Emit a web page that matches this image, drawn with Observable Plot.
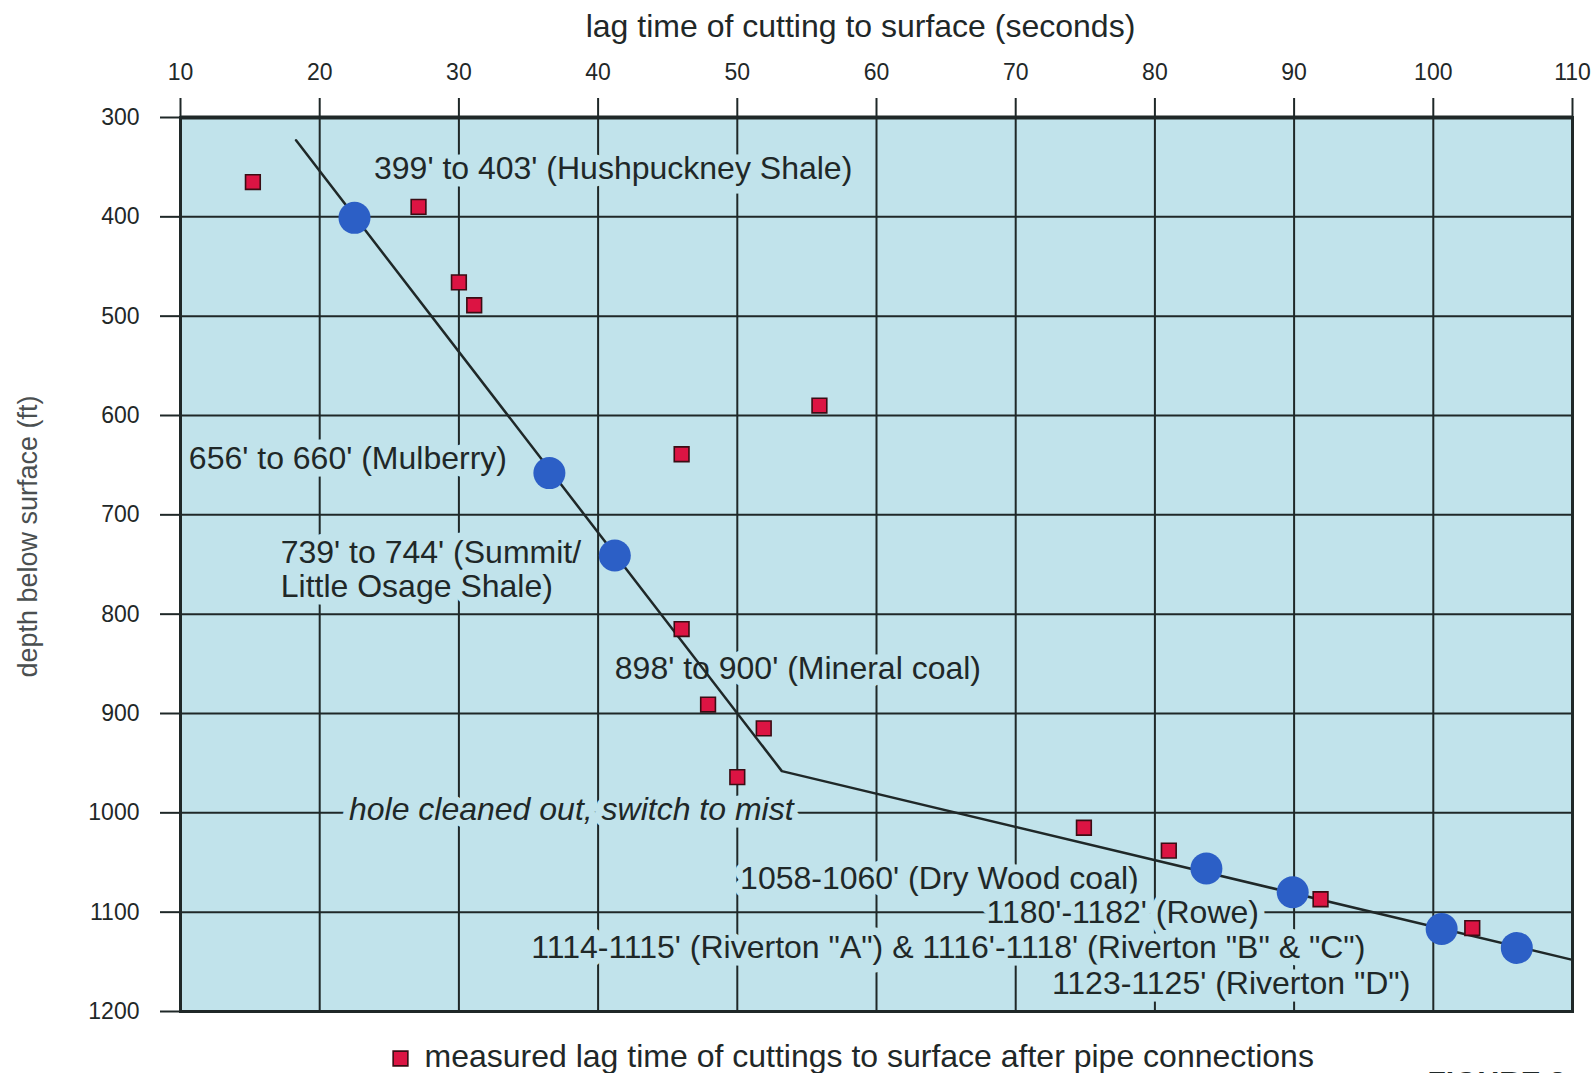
<!DOCTYPE html>
<html><head><meta charset="utf-8">
<script src="https://cdn.jsdelivr.net/npm/d3@7"></script>
<script src="https://cdn.jsdelivr.net/npm/@observablehq/plot@0.6"></script>
<style>html,body{margin:0;padding:0;background:#fff;overflow:hidden;}</style>
</head><body><div id="chart"></div>
<script>
const xTicks = [10, 20, 30, 40, 50, 60, 70, 80, 90, 100, 110];
const yTicks = [300, 400, 500, 600, 700, 800, 900, 1000, 1100, 1200];

// measured lag time of cuttings after pipe connections (red squares)
const measuredLag   = [15.2, 27.1, 30.0, 31.1, 55.9, 46.0, 46.0, 47.9, 51.9, 50.0, 74.9, 81.0, 91.9, 102.8];
const measuredDepth = [365, 390, 466, 489, 590, 639, 815, 891, 915, 964, 1015, 1038, 1087, 1116];

// marker horizons (blue circles)
const horizonLag   = [22.5, 36.5, 41.2, 83.7, 89.9, 100.6, 106.0];
const horizonDepth = [401, 658, 741, 1056, 1080, 1117, 1136];

// interpreted trend line
const trendLag   = [18.3, 53.2, 110];
const trendDepth = [323, 958, 1148];

// annotations (left edge, vertical centre)
const noteText = [
  "399' to 403' (Hushpuckney Shale)",
  "656' to 660' (Mulberry)",
  "739' to 744' (Summit/",
  "Little Osage Shale)",
  "898' to 900' (Mineral coal)",
  "1058-1060' (Dry Wood coal)",
  "1180'-1182' (Rowe)",
  "1114-1115' (Riverton \"A\") & 1116'-1118' (Riverton \"B\" & \"C\")",
  "1123-1125' (Riverton \"D\")"
];
const noteLag   = [23.9, 10.6, 17.2, 17.2, 41.2, 50.2, 67.9, 35.2, 72.6];
const noteDepth = [352, 644, 738, 772, 855, 1066, 1101, 1136, 1172];

const italicText = ["hole cleaned out, switch to mist"];
const italicLag = [22.1];
const italicDepth = [997];

const xTitle = "lag time of cutting to surface (seconds)";
const yTitle = "depth below surface (ft)";
const legendText = "measured lag time of cuttings to surface after pipe connections";
const figureText = "FIGURE 3";

const bg = "#c1e3eb";
const ink = "#1f2828";
const font = "'Liberation Sans', Arial, Helvetica, sans-serif";

const measured = measuredLag.map((x, i) => ({x, y: measuredDepth[i]}));
const horizons = horizonLag.map((x, i) => ({x, y: horizonDepth[i]}));
const trend = trendLag.map((x, i) => ({x, y: trendDepth[i]}));
const notes = noteText.map((t, i) => ({t, x: noteLag[i], y: noteDepth[i]}));
const italics = italicText.map((t, i) => ({t, x: italicLag[i], y: italicDepth[i]}));

const chart = Plot.plot({
  width: 1595,
  height: 1073,
  marginTop: 117,
  marginBottom: 62,
  marginLeft: 180,
  marginRight: 23,
  style: {fontFamily: font, background: "#fff", color: ink},
  x: {domain: [10, 110]},
  y: {domain: [300, 1200], reverse: true},
  marks: [
    Plot.frame({fill: bg, stroke: null}),
    Plot.gridX(xTicks, {stroke: ink, strokeOpacity: 1, strokeWidth: 2}),
    Plot.gridY(yTicks, {stroke: ink, strokeOpacity: 1, strokeWidth: 2}),
    Plot.frame({stroke: ink, strokeWidth: 3}),
    Plot.ruleY([300], {stroke: ink, strokeWidth: 4}),
    Plot.axisX(xTicks, {anchor: "top", tickSize: 20, tickPadding: 18, fontSize: 23, stroke: ink, strokeWidth: 2, fill: ink, label: null, tickFormat: d => String(d)}),
    Plot.axisY(yTicks, {anchor: "left", tickSize: 20, tickPadding: 21, fontSize: 23, stroke: ink, strokeWidth: 2, fill: ink, label: null, tickFormat: d => String(d)}),
    Plot.text([xTitle], {frameAnchor: "top", dx: -16, dy: -91, fontSize: 32, fill: ink, textAnchor: "middle", lineAnchor: "middle"}),
    Plot.text([yTitle], {frameAnchor: "left", dx: -152, dy: -28, rotate: -90, fontSize: 27, fill: "#4a4f50", textAnchor: "middle", lineAnchor: "middle"}),
    Plot.text(notes, {x: "x", y: "y", text: "t", textAnchor: "start", lineAnchor: "middle", fontSize: 32, fill: ink, stroke: bg, strokeWidth: 15, strokeLinejoin: "round", paintOrder: "stroke"}),
    Plot.text(italics, {x: "x", y: "y", text: "t", textAnchor: "start", lineAnchor: "middle", fontSize: 32, fontStyle: "italic", fill: ink, stroke: bg, strokeWidth: 15, strokeLinejoin: "round", paintOrder: "stroke"}),
    Plot.line(trend, {x: "x", y: "y", stroke: ink, strokeWidth: 2.5}),
    Plot.dot(measured, {x: "x", y: "y", symbol: "square", r: 8.3, fill: "#dc1443", stroke: "#3a0d14", strokeWidth: 1.6}),
    Plot.dot(horizons, {x: "x", y: "y", r: 16, fill: "#2c5fc6", stroke: null}),
    Plot.dot([legendText], {frameAnchor: "bottom-left", dx: 220, dy: 47, symbol: "square", r: 8.3, fill: "#dc1443", stroke: "#3a0d14", strokeWidth: 1.6}),
    Plot.text([legendText], {frameAnchor: "bottom-left", dx: 244, dy: 45, textAnchor: "start", lineAnchor: "middle", fontSize: 32, fill: ink}),
    Plot.text([figureText], {frameAnchor: "bottom-right", dx: -145, dy: 59, textAnchor: "start", lineAnchor: "top", fontSize: 30, fontWeight: "bold", fill: ink})
  ]
});
document.getElementById("chart").appendChild(chart);
</script>
</body></html>
